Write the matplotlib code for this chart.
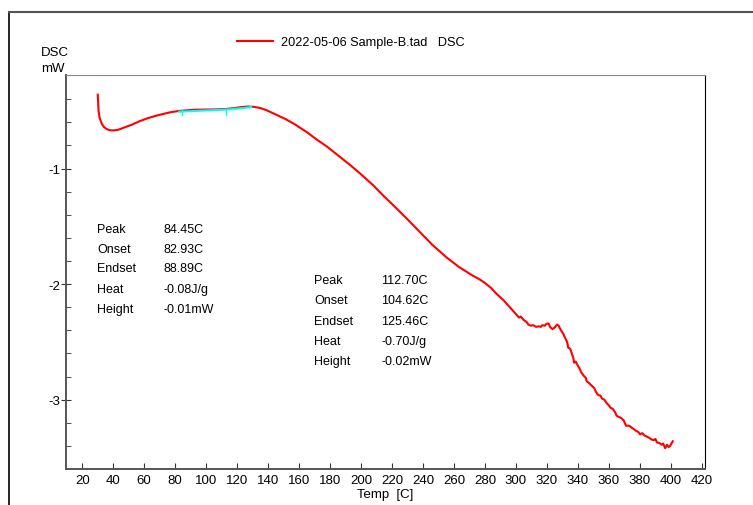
import matplotlib.pyplot as plt
from matplotlib.lines import Line2D

plt.rcParams['font.family'] = ['Liberation Sans', 'DejaVu Sans']
plt.rcParams['axes.unicode_minus'] = False

# DSC curve
temp = [30.0, 30.2, 30.5, 31.2, 32.5, 34, 36, 38, 40, 43, 47, 52, 57, 62, 67, 72, 77, 82,
        88, 94, 100, 106, 112, 118, 123, 127, 131, 135, 139, 143, 147, 151, 157, 165, 172,
        178, 185, 193, 200, 208, 214, 221, 230, 238, 246, 255, 263, 272, 276, 280, 284,
        287.5, 292, 296, 300, 302, 303, 305, 307, 308, 309.5, 311, 313, 314.5, 316, 317,
        318.5, 319.5, 321, 322, 323.5, 325, 326.5, 327.5, 329, 330.5, 331.5, 333, 333.7,
        335, 336, 337, 337.5, 338.5, 339.5, 341, 342, 343.5, 345, 345.6, 347, 349, 350.5,
        351.5, 353, 354.5, 355.5, 357, 358.5, 360, 361, 362.5, 364, 365, 366.5, 368, 369.5,
        371, 373, 374.5, 376, 377.5, 379, 380, 381.5, 383, 384.5, 386, 387.5, 389, 390, 391,
        392.5, 394, 395, 396.3, 397.5, 398.5, 399.5, 400.3, 401.2]
dsc = [-0.36, -0.42, -0.50, -0.56, -0.61, -0.64, -0.66, -0.668, -0.67, -0.665, -0.645, -0.62,
       -0.59, -0.565, -0.545, -0.528, -0.512, -0.502, -0.495, -0.49, -0.489, -0.488, -0.485,
       -0.477, -0.467, -0.463, -0.466, -0.476, -0.495, -0.52, -0.545, -0.57, -0.615, -0.685,
       -0.755, -0.81, -0.885, -0.97, -1.05, -1.147, -1.23, -1.32, -1.44, -1.55, -1.66, -1.767,
       -1.85, -1.926, -1.955, -1.99, -2.035, -2.085, -2.14, -2.20, -2.26, -2.29, -2.28, -2.31,
       -2.33, -2.35, -2.36, -2.355, -2.37, -2.365, -2.37, -2.355, -2.36, -2.345, -2.34, -2.37,
       -2.39, -2.375, -2.35, -2.36, -2.40, -2.43, -2.46, -2.50, -2.55, -2.56, -2.60, -2.64,
       -2.68, -2.67, -2.695, -2.73, -2.76, -2.79, -2.81, -2.84, -2.855, -2.88, -2.90, -2.93,
       -2.96, -2.965, -2.99, -3.00, -3.03, -3.05, -3.07, -3.08, -3.11, -3.14, -3.15, -3.16,
       -3.18, -3.225, -3.225, -3.24, -3.255, -3.27, -3.28, -3.30, -3.29, -3.31, -3.32, -3.33,
       -3.345, -3.35, -3.34, -3.37, -3.375, -3.39, -3.38, -3.42, -3.39, -3.41, -3.40, -3.38,
       -3.36]

# baseline (cyan) and peak markers
base_t = [82.5, 90, 100, 110, 118, 124, 129]
base_y = [-0.508, -0.503, -0.497, -0.492, -0.484, -0.476, -0.468]
peak_t = [84.45, 112.70]

labels = ['Peak', 'Onset', 'Endset', 'Heat', 'Height']
vals1 = ['84.45C', '82.93C', '88.89C', '-0.08J/g', '-0.01mW']
vals2 = ['112.70C', '104.62C', '125.46C', '-0.70J/g', '-0.02mW']

W, H = 753, 506
fig = plt.figure(figsize=(W / 100, H / 100), dpi=100)
ax = fig.add_axes([66 / W, 1 - 470 / H, (705 - 66) / W, (470 - 76) / H])

ax.plot(temp, dsc, color='red', lw=1.5, label='2022-05-06 Sample-B.tad   DSC')
ax.plot(base_t, base_y, color='cyan', lw=1.5)
for t in peak_t:
    ax.plot([t, t], [-0.49, -0.535], color='cyan', lw=1)

ax.set_xlim(9.5, 422)
ax.set_ylim(-3.6, -0.19)
ax.set_xticks(range(20, 421, 20))
ax.set_yticks([-1, -2, -3])
ax.set_yticks([-0.4, -0.6, -0.8, -1.2, -1.4, -1.6, -1.8, -2.2, -2.4, -2.6, -2.8,
               -3.2, -3.4], minor=True)
ax.tick_params(axis='x', direction='in', length=4, pad=3.5, labelsize=9.5, color='#333333')
ax.tick_params(axis='y', which='major', direction='inout', length=7, pad=0.5,
               labelsize=9.5, color='#333333')
ax.tick_params(axis='y', which='minor', direction='in', length=3.5, color='#333333')

for s in ['left', 'bottom']:
    ax.spines[s].set_color('#555555')
    ax.spines[s].set_linewidth(1.4)
ax.spines['top'].set_color('#888888')
ax.spines['right'].set_color('black')

ax.set_xlabel('Temp  [C]', fontsize=9.5, labelpad=1.5)
fig.text(41 / W, 1 - 53 / H, 'DSC', fontsize=9.5, va='center')
fig.text(41 / W, 1 - 69 / H, 'mW', fontsize=9.5, va='center')

ax.legend(loc='center left', bbox_to_anchor=(237 / W, 1 - 43 / H),
          bbox_transform=fig.transFigure, frameon=False, fontsize=9.2,
          borderpad=0, borderaxespad=0, handlelength=2.8, handletextpad=0.65)

# peak analysis tables
rows1 = [230, 250, 269.5, 290, 310]
rows2 = [281.5, 301.5, 322, 342, 362]
for lab, v, y in zip(labels, vals1, rows1):
    fig.text(97 / W, 1 - y / H, lab, fontsize=9, va='center')
    fig.text(164 / W, 1 - y / H, v, fontsize=9, va='center')
for lab, v, y in zip(labels, vals2, rows2):
    fig.text(314 / W, 1 - y / H, lab, fontsize=9, va='center')
    fig.text(381 / W, 1 - y / H, v, fontsize=9, va='center')

# outer frame
fig.add_artist(Line2D([8.5 / W, 8.5 / W], [0, 1 - 12.5 / H], color='black', lw=1.2,
                      transform=fig.transFigure))
fig.add_artist(Line2D([8.5 / W, 1], [1 - 12.5 / H, 1 - 12.5 / H], color='#555555', lw=1.5,
                      transform=fig.transFigure))

fig.savefig('out.png', dpi=100)
